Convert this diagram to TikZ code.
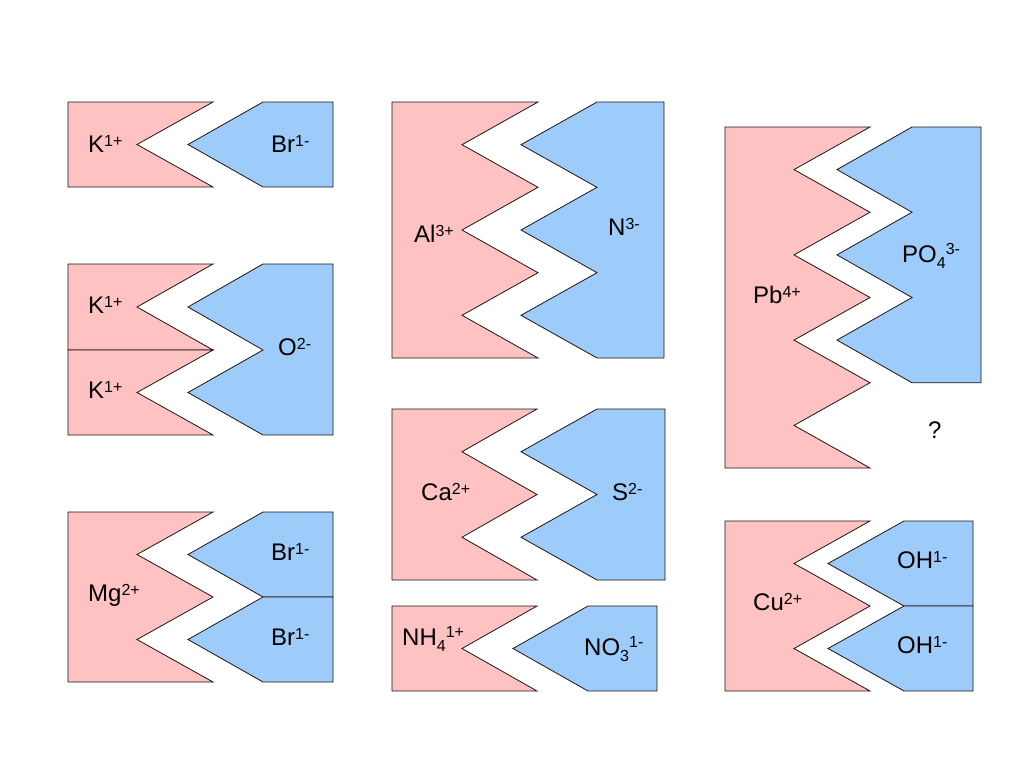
\documentclass[tikz,border=0pt]{standalone}
\usepackage{fontspec}
\setmainfont{Liberation Sans}
\definecolor{cat}{RGB}{255,194,194}
\definecolor{ani}{RGB}{158,204,250}
\definecolor{edge}{RGB}{30,20,20}
\newcommand{\chgup}[1]{\raisebox{6pt}{\fontsize{16}{16}\selectfont #1}}
\newcommand{\chghi}[1]{\raisebox{8pt}{\fontsize{16}{16}\selectfont #1}}
\newcommand{\chgdn}[1]{\raisebox{-6pt}{\fontsize{16}{16}\selectfont #1}}
\tikzset{
  cation/.style={fill=cat,draw=edge,line width=0.8pt,line join=miter},
  anion/.style={fill=ani,draw=edge,line width=0.8pt,line join=miter},
  lbl/.style={anchor=base west,inner sep=0pt,font=\fontsize{24}{28}\selectfont}
}
\begin{document}
\begin{tikzpicture}[x=1pt,y=-1pt]
\useasboundingbox (0,0) rectangle (1024,768);
% K Br
\draw[cation] (68,102)--(213,102)--(137,144.5)--(213,187)--(68,187)--cycle;
\draw[anion] (263,102)--(333,102)--(333,187)--(263,187)--(188,144.5)--cycle;
\node[lbl] (k1) at (88,152) {K\chgup{1+}};
\node[lbl] (br1) at (271,152) {Br\chgup{1-}};
% K2O
\draw[cation] (68,264)--(213,264)--(137,307)--(213,350)--(68,350)--cycle;
\draw[cation] (68,350)--(213,350)--(137,392.5)--(213,435)--(68,435)--cycle;
\draw[anion] (263,264)--(333,264)--(333,435)--(263,435)--(188,392.5)--(263,350)--(188,307)--cycle;
\node[lbl] (k2) at (88,313) {K\chgup{1+}};
\node[lbl] (k3) at (88,398) {K\chgup{1+}};
\node[lbl] (o1) at (278,355) {O\chgup{2-}};
% MgBr2
\draw[cation] (68,512)--(213,512)--(137,554.5)--(213,597)--(137,639.5)--(213,682)--(68,682)--cycle;
\draw[anion] (263,512)--(333,512)--(333,597)--(263,597)--(188,554.5)--cycle;
\draw[anion] (263,597)--(333,597)--(333,682)--(263,682)--(188,639.5)--cycle;
\node[lbl] (mg) at (88,601) {Mg\chgup{2+}};
\node[lbl] (br2) at (271,560) {Br\chgup{1-}};
\node[lbl] (br3) at (271,645) {Br\chgup{1-}};
% AlN
\draw[cation] (392,102)--(538,102)--(462,144.7)--(538,187.3)--(462,230)--(538,272.7)--(462,315.3)--(538,358)--(392,358)--cycle;
\draw[anion] (597,102)--(664,102)--(664,358)--(597,358)--(521,315.3)--(597,272.7)--(521,230)--(597,187.3)--(521,144.7)--cycle;
\node[lbl] (al) at (414,242) {Al\chgup{3+}};
\node[lbl] (n1) at (608,235) {N\chgup{3-}};
% CaS
\draw[cation] (392,409)--(537,409)--(462,451.75)--(537,494.5)--(462,537.25)--(537,580)--(392,580)--cycle;
\draw[anion] (597,409)--(665,409)--(665,580)--(597,580)--(521,537.25)--(597,494.5)--(521,451.75)--cycle;
\node[lbl] (ca) at (421,500) {Ca\chgup{2+}};
\node[lbl] (s1) at (612,500) {S\chgup{2-}};
% NH4 NO3
\draw[cation] (392,606)--(537,606)--(462,648.5)--(537,691)--(392,691)--cycle;
\draw[anion] (588,606)--(657,606)--(657,691)--(588,691)--(513,648.5)--cycle;
\node[lbl] (nh4) at (402,645) {NH\chgdn{4}\chghi{1+}};
\node[lbl] (no3) at (584,655) {NO\chgdn{3}\chghi{1-}};
% Pb PO4
\draw[cation] (725,127)--(870,127)--(794,169.6)--(870,212.25)--(794,254.9)--(870,297.5)--(794,340.1)--(870,382.75)--(794,425.4)--(870,468)--(725,468)--cycle;
\draw[anion] (912,127)--(981,127)--(981,382.75)--(912,382.75)--(837,340.1)--(912,297.5)--(837,254.9)--(912,212.25)--(837,169.6)--cycle;
\node[lbl] (pb) at (753,303) {Pb\chgup{4+}};
\node[lbl] (po4) at (902,262) {PO\chgdn{4}\chghi{3-}};
\node[lbl] (q) at (928,438) {?};
% Cu OH
\draw[cation] (725,521)--(870,521)--(794,563.5)--(870,606)--(794,648.5)--(870,691)--(725,691)--cycle;
\draw[anion] (904,521)--(973,521)--(973,606)--(904,606)--(828,563.5)--cycle;
\draw[anion] (904,606)--(973,606)--(973,691)--(904,691)--(828,648.5)--cycle;
\node[lbl] (cu) at (753,610) {Cu\chgup{2+}};
\node[lbl] (oh1) at (897,568) {OH\chgup{1-}};
\node[lbl] (oh2) at (897,653) {OH\chgup{1-}};
\end{tikzpicture}
\end{document}
